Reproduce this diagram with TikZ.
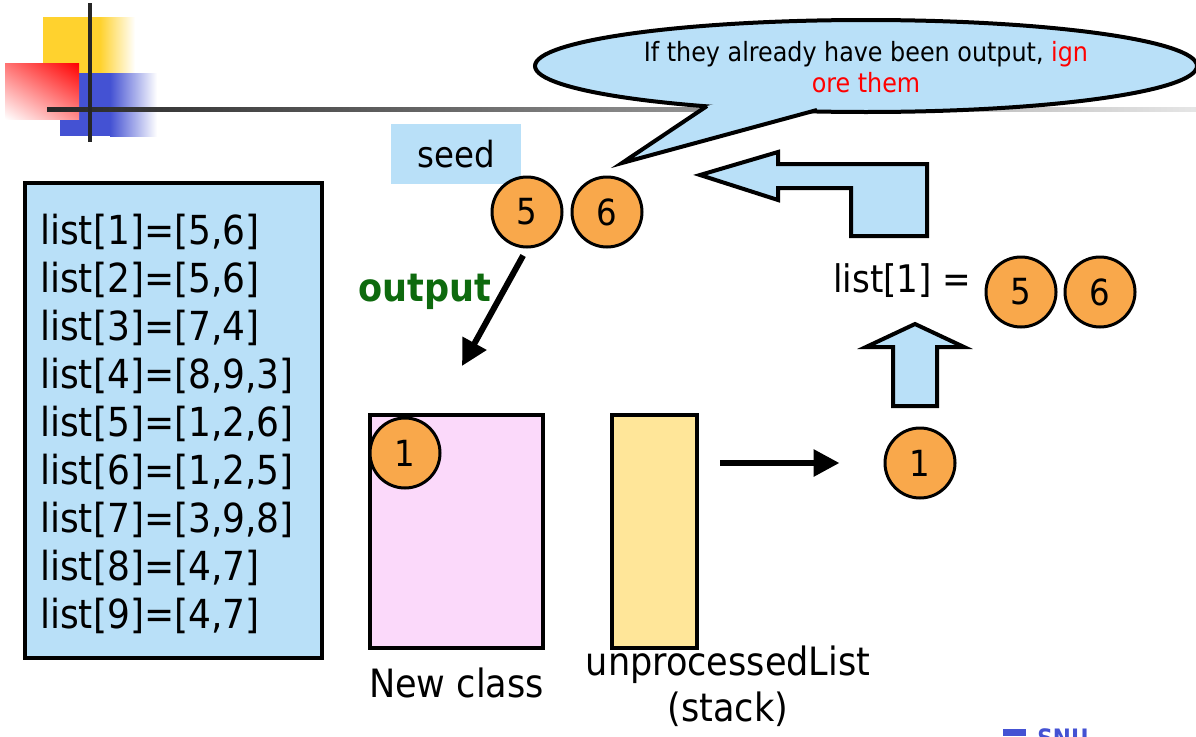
\documentclass[tikz,border=0pt]{standalone}
\usepackage{fontspec}
\setmainfont{DejaVu Sans Condensed}
\usepackage{xcolor}
\usepackage{tikz}
\usetikzlibrary{arrows.meta, positioning, shapes, calc, shadings}

\definecolor{boxblue}{HTML}{B9E0F8}
\definecolor{ballorange}{HTML}{F9A84B}
\definecolor{boxpink}{HTML}{FBD9FA}
\definecolor{boxyellow}{HTML}{FFE699}
\definecolor{outgreen}{HTML}{0E6A0E}
\definecolor{decoyellow}{HTML}{FFD22E}
\definecolor{decoblue}{HTML}{4452D3}

\tikzset{
  ball/.style={circle, draw, line width=3pt, fill=ballorange, minimum size=70pt, inner sep=0pt, font=\fontsize{36}{40}\selectfont},
  bigbox/.style={rectangle, draw, line width=4pt, inner sep=0pt},
  bigarrow/.style={line width=6pt, -{Triangle[length=26pt,width=26pt]}},
  blockarrow/.style={draw, line width=4pt, fill=boxblue, line join=miter},
  lbl/.style={font=\fontsize{39}{46}\selectfont, align=center}
}

\begin{document}
\begin{tikzpicture}[x=1pt, y=-1pt]
\useasboundingbox (0,0) rectangle (1196,736);

%//corner logo
\fill[decoyellow] (43,17) rectangle (100,73);
\shade[left color=decoyellow, right color=white] (100,17) rectangle (135,73);
\fill[decoblue] (60,73) rectangle (110,136);
\shade[left color=decoblue, right color=white] (110,73) rectangle (157,136);
\shade[upper left=red!55, upper right=red, lower left=white, lower right=red!45] (5,63) rectangle (79,119);
\shade[left color=black!85, right color=black!10] (47,107) rectangle (1196,111);
\fill[black!85] (88,3) rectangle (92,142);

%//speech bubble
\draw[line width=4pt, fill=boxblue] (866,66) ellipse [x radius=331pt, y radius=46pt];
\fill[boxblue] (707,106) -- (622,163) -- (817,110) -- (760,92) -- cycle;
\draw[line width=4pt, line join=miter] (707,106) -- (622,163) -- (817,110);
\node[font=\fontsize{26.5}{31}\selectfont, align=center] (note) at (866,67)
  {If they already have been output, \textcolor{red}{ign}\\ \textcolor{red}{ore them}};

%//list box
\node[bigbox, fill=boxblue, minimum width=297pt, minimum height=475pt] (lists) at (173.5,420.5) {};
\foreach \i/\val in {1/{[5,6]},2/{[5,6]},3/{[7,4]},4/{[8,9,3]},5/{[1,2,6]},6/{[1,2,5]},7/{[3,9,8]},8/{[4,7]},9/{[4,7]}}
\node[anchor=west, font=\fontsize{40}{44}\selectfont, inner sep=0pt] (l\i) at (40, 232+48*\i-48) {list[\i]=\val};

%//seed
\node[fill=boxblue, minimum width=130pt, minimum height=60pt, font=\fontsize{36}{40}\selectfont] (seed) at (456,154) {seed};
\node[ball] (s5) at (527,212) {5};
\node[ball] (s6) at (607,212) {6};

%//output
\coordinate (outtip) at (462,366);
\draw[bigarrow, shorten <=8pt] (s5.south) -- (outtip);
\node[font=\fontsize{39}{42}\selectfont\bfseries, text=outgreen] (outlbl) at (425,292) {output};

%//new class and stack
\node[bigbox, fill=boxpink, minimum width=173pt, minimum height=233pt] (newclass) at (456.5,531.5) {};
\node[ball] (c1) at (405,453) {1};
\node[lbl, below=14pt of newclass] (newlbl) {New class};
\node[bigbox, fill=boxyellow, minimum width=85pt, minimum height=233pt] (stack) at (654.5,531.5) {};
\node[lbl] (stacklbl) at (728,686) {unprocessedList\\(stack)};

\node[ball] (p1) at (920,463) {1};
\draw[bigarrow, shorten <=21pt, shorten >=44pt] (stack.east |- p1) -- (p1.west);

%//list[1]
\node[ball] (r5) at (1021,292) {5};
\node[ball] (r6) at (1100,292) {6};
\node[anchor=base east, font=\fontsize{38}{42}\selectfont] (rlbl) at (975,292) {list[1] =};

%//block arrows
\draw[blockarrow] (893,406) -- (893,347) -- (866,347) -- (915,324) -- (964,347) -- (937,347) -- (937,406) -- cycle;
\draw[blockarrow] (700,175) -- (778,152) -- (778,164) -- (927,164) -- (927,236) -- (851,236) -- (851,188) -- (778,188) -- (778,200) -- cycle;

%//cut-off logo
\fill[decoblue] (1003,729) rectangle (1026,736);
\node[anchor=north, inner sep=0pt, font=\fontsize{24}{26}\selectfont\bfseries, text=decoblue] (snu) at (1063,728) {SNU};
\end{tikzpicture}
\end{document}
